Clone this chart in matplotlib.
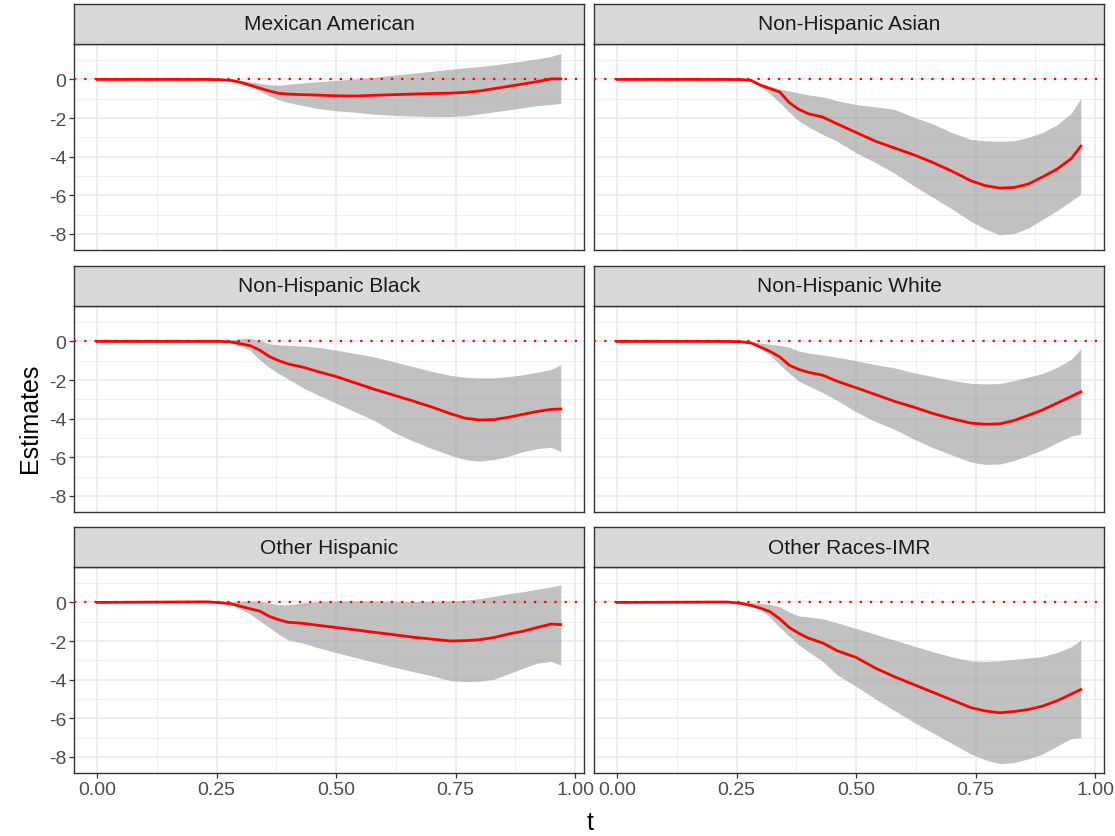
import numpy as np
import matplotlib
matplotlib.use("Agg")
import matplotlib.pyplot as plt

plt.rcParams['font.family'] = ['Liberation Sans', 'DejaVu Sans']

# time grid shared by all panels
t = [0.00, 0.23, 0.26, 0.28, 0.30, 0.32, 0.34, 0.36, 0.38, 0.40, 0.43, 0.46, 0.50, 0.54,
     0.58, 0.62, 0.66, 0.70, 0.74, 0.77, 0.80, 0.83, 0.86, 0.89, 0.92, 0.95, 0.97]

groups = ["Mexican American", "Non-Hispanic Asian", "Non-Hispanic Black",
          "Non-Hispanic White", "Other Hispanic", "Other Races-IMR"]

# Mexican American
mex_est = [0, 0, -0.02, -0.05, -0.15, -0.30, -0.45, -0.60, -0.72, -0.76, -0.79, -0.81, -0.85, -0.86,
           -0.82, -0.79, -0.76, -0.73, -0.71, -0.67, -0.60, -0.48, -0.36, -0.24, -0.12, 0.03, 0.03]
mex_hi = [0, 0, 0, 0, -0.05, -0.12, -0.20, -0.27, -0.30, -0.25, -0.18, -0.12, -0.05, 0.02,
          0.12, 0.22, 0.32, 0.42, 0.53, 0.60, 0.67, 0.75, 0.85, 0.95, 1.06, 1.20, 1.34]
mex_lo = [0, 0, 0, -0.05, -0.20, -0.38, -0.60, -0.85, -1.05, -1.20, -1.35, -1.50, -1.62, -1.70,
          -1.80, -1.86, -1.90, -1.92, -1.92, -1.88, -1.78, -1.68, -1.58, -1.47, -1.36, -1.30, -1.24]

# Non-Hispanic Asian
asn_est = [0, 0, -0.01, -0.05, -0.30, -0.48, -0.65, -1.20, -1.55, -1.78, -1.95, -2.30, -2.75, -3.20,
           -3.55, -3.90, -4.30, -4.75, -5.25, -5.50, -5.63, -5.60, -5.42, -5.05, -4.65, -4.10, -3.46]
asn_hi = [0, 0, 0, 0, -0.20, -0.35, -0.50, -0.60, -0.70, -0.80, -0.90, -1.10, -1.30, -1.42,
          -1.55, -1.95, -2.30, -2.75, -3.10, -3.18, -3.20, -3.18, -3.00, -2.75, -2.35, -1.75, -0.98]
asn_lo = [0, 0, 0, -0.05, -0.35, -0.75, -1.20, -1.70, -2.15, -2.45, -2.85, -3.20, -3.80, -4.30,
          -4.85, -5.50, -6.10, -6.70, -7.35, -7.75, -8.05, -7.98, -7.70, -7.25, -6.80, -6.30, -5.94]

# Non-Hispanic Black
blk_est = [0, 0, 0, -0.03, -0.12, -0.22, -0.45, -0.78, -1.00, -1.17, -1.33, -1.55, -1.82, -2.15,
           -2.48, -2.78, -3.08, -3.40, -3.75, -3.98, -4.07, -4.05, -3.93, -3.78, -3.63, -3.52, -3.50]
blk_hi = [0, 0, 0, 0.08, 0.15, 0.17, 0.05, -0.12, -0.18, -0.20, -0.23, -0.30, -0.45, -0.62,
          -0.80, -1.05, -1.30, -1.55, -1.76, -1.85, -1.89, -1.88, -1.82, -1.73, -1.60, -1.45, -1.20]
blk_lo = [0, 0, 0, -0.08, -0.25, -0.46, -0.95, -1.35, -1.67, -1.95, -2.40, -2.75, -3.20, -3.65,
          -4.10, -4.70, -5.15, -5.55, -5.90, -6.12, -6.20, -6.12, -5.95, -5.72, -5.55, -5.48, -5.70]

# Non-Hispanic White
wht_est = [0, 0, -0.02, -0.08, -0.30, -0.52, -0.80, -1.23, -1.45, -1.60, -1.75, -2.06, -2.40, -2.75,
           -3.10, -3.40, -3.73, -4.00, -4.23, -4.29, -4.27, -4.10, -3.83, -3.55, -3.20, -2.85, -2.61]
wht_hi = [0, 0, 0, 0, -0.08, -0.15, -0.20, -0.30, -0.50, -0.60, -0.70, -0.82, -1.00, -1.20,
          -1.37, -1.62, -1.82, -2.02, -2.17, -2.20, -2.18, -2.03, -1.85, -1.66, -1.35, -0.92, -0.38]
wht_lo = [0, 0, 0, -0.08, -0.35, -0.72, -1.20, -1.65, -2.05, -2.30, -2.65, -3.05, -3.65, -4.15,
          -4.55, -5.05, -5.50, -5.88, -6.25, -6.37, -6.35, -6.18, -5.90, -5.62, -5.25, -4.90, -4.80]

# Other Hispanic
ohs_est = [0, 0.03, -0.02, -0.07, -0.20, -0.33, -0.45, -0.72, -0.90, -1.03, -1.08, -1.18, -1.30, -1.42,
           -1.55, -1.67, -1.80, -1.90, -2.00, -1.98, -1.93, -1.82, -1.64, -1.50, -1.30, -1.12, -1.15]
ohs_hi = [0, 0.03, 0, 0.02, 0.05, 0.08, 0.05, -0.03, -0.12, -0.12, -0.02, 0.05, 0.08, 0.08,
          0.08, 0.06, 0.05, 0.06, 0.08, 0.12, 0.20, 0.32, 0.45, 0.55, 0.68, 0.80, 0.91]
ohs_lo = [0, 0.03, 0, -0.10, -0.35, -0.60, -0.95, -1.30, -1.65, -1.95, -2.10, -2.33, -2.60, -2.85,
          -3.10, -3.35, -3.58, -3.80, -4.05, -4.10, -4.08, -3.98, -3.70, -3.42, -3.15, -3.05, -3.25]

# Other Races-IMR
oth_est = [0, 0.02, -0.05, -0.16, -0.30, -0.48, -0.85, -1.30, -1.60, -1.85, -2.10, -2.50, -2.85, -3.40,
           -3.85, -4.25, -4.65, -5.05, -5.45, -5.62, -5.72, -5.65, -5.55, -5.37, -5.10, -4.75, -4.51]
oth_hi = [0, 0.02, 0, 0, -0.05, -0.10, -0.22, -0.50, -0.70, -0.75, -0.85, -1.05, -1.35, -1.65,
          -1.95, -2.25, -2.55, -2.82, -3.03, -3.05, -3.02, -2.95, -2.88, -2.80, -2.60, -2.30, -1.94]
oth_lo = [0, 0.02, 0, -0.10, -0.35, -0.78, -1.30, -1.75, -2.20, -2.55, -3.05, -3.75, -4.35, -5.00,
          -5.60, -6.20, -6.75, -7.30, -7.85, -8.15, -8.35, -8.30, -8.10, -7.85, -7.45, -7.05, -7.00]

est = [mex_est, asn_est, blk_est, wht_est, ohs_est, oth_est]
his = [mex_hi, asn_hi, blk_hi, wht_hi, ohs_hi, oth_hi]
los = [mex_lo, asn_lo, blk_lo, wht_lo, ohs_lo, oth_lo]

W, H = 1115, 837
fig = plt.figure(figsize=(W / 100, H / 100), dpi=100)

lefts = [74, 594]
pw = 510
tops = [45, 307, 568]
ph = 206
sh = 40

border = '#333333'
for i, name in enumerate(groups):
    r, c = divmod(i, 2)
    x0 = lefts[c] / W
    y0 = 1 - (tops[r] + ph) / H
    ax = fig.add_axes([x0, y0, pw / W, ph / H])
    sax = fig.add_axes([x0, 1 - tops[r] / H, pw / W, sh / H])

    ax.fill_between(t, los[i], his[i], color='#999999', alpha=0.6, linewidth=0, zorder=2)
    ax.plot(t, est[i], color='red', lw=2.0, zorder=3)
    ax.axhline(0, color='red', lw=1.6, ls=(0, (1, 3.6)), zorder=4)

    ax.set_xlim(-0.0485, 1.0185)
    ax.set_ylim(-8.835, 1.835)
    ax.set_xticks([0, 0.25, 0.5, 0.75, 1.0])
    ax.set_xticks([0.125, 0.375, 0.625, 0.875], minor=True)
    ax.set_yticks([0, -2, -4, -6, -8])
    ax.set_yticks([1, -1, -3, -5, -7], minor=True)
    ax.grid(which='major', color='#EBEBEB', lw=1.2, zorder=0)
    ax.grid(which='minor', color='#EBEBEB', lw=0.6, zorder=0)
    ax.set_axisbelow(True)
    ax.tick_params(which='minor', length=0)
    ax.tick_params(which='major', length=3.5, width=0.9, color=border,
                   labelsize=14, labelcolor='#4D4D4D', pad=2)
    for s in ax.spines.values():
        s.set_color(border)
        s.set_linewidth(1.0)
    if c == 0:
        ax.set_yticklabels(['0', '-2', '-4', '-6', '-8'])
    else:
        ax.tick_params(axis='y', which='both', left=False, labelleft=False)
    if r == 2:
        ax.set_xticklabels(['0.00', '0.25', '0.50', '0.75', '1.00'])
    else:
        ax.tick_params(axis='x', which='both', bottom=False, labelbottom=False)

    sax.set_facecolor('#D9D9D9')
    sax.set_xticks([])
    sax.set_yticks([])
    for s in sax.spines.values():
        s.set_color(border)
        s.set_linewidth(1.0)
    sax.text(0.5, 0.5, name, ha='center', va='center', fontsize=15,
             color='#1A1A1A', transform=sax.transAxes)

fig.text(590 / W, 1 - 823 / H, 't', ha='center', va='center', fontsize=18)
fig.text(30 / W, 1 - 418 / H, 'Estimates', ha='center', va='center',
         rotation=90, fontsize=18)

fig.savefig('out.png', dpi=100)
